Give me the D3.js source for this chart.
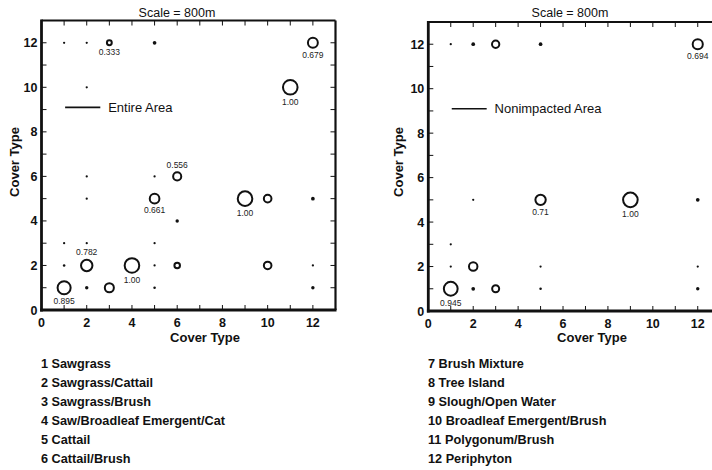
<!DOCTYPE html>
<html lang="en">
<head>
  <meta charset="UTF-8" />
  <title>Cover Type Transitions</title>
  <style>
    body { margin: 0; background: #fff; }
    svg { display: block; font-family: "Liberation Sans", Arial, sans-serif; }
  </style>
  <script src="https://cdn.jsdelivr.net/npm/d3@7"></script>
</head>
<body>
<script>
  // [from cover type, to cover type, relative value]
  const entirePoints = [
    [1, 12, 0.12], [2, 12, 0.12], [3, 12, 0.333], [5, 12, 0.22], [12, 12, 0.679],
    [2, 10, 0.12], [11, 10, 1.00],
    [2, 6, 0.12], [5, 6, 0.12], [6, 6, 0.556],
    [2, 5, 0.12], [5, 5, 0.661], [9, 5, 1.00], [10, 5, 0.52], [12, 5, 0.22],
    [6, 4, 0.2],
    [1, 3, 0.12], [2, 3, 0.12], [5, 3, 0.12],
    [1, 2, 0.14], [2, 2, 0.782], [4, 2, 1.00], [5, 2, 0.12], [6, 2, 0.38], [10, 2, 0.52], [12, 2, 0.12],
    [1, 1, 0.895], [2, 1, 0.2], [3, 1, 0.62], [5, 1, 0.14], [12, 1, 0.2]
  ];
  const nonimpactedPoints = [
    [1, 12, 0.12], [2, 12, 0.22], [3, 12, 0.5], [5, 12, 0.22], [12, 12, 0.694],
    [2, 5, 0.12], [5, 5, 0.71], [9, 5, 1.00], [12, 5, 0.22],
    [1, 3, 0.12],
    [1, 2, 0.12], [2, 2, 0.58], [5, 2, 0.12], [12, 2, 0.12],
    [1, 1, 0.945], [2, 1, 0.22], [3, 1, 0.48], [5, 1, 0.14], [12, 1, 0.2]
  ];
  // [x, y, text, side]
  const entireLabels = [
    [3, 12, "0.333", "below"], [12, 12, "0.679", "below"], [11, 10, "1.00", "below"],
    [6, 6, "0.556", "above"], [5, 5, "0.661", "below"], [9, 5, "1.00", "below"],
    [2, 2, "0.782", "above"], [4, 2, "1.00", "below"], [1, 1, "0.895", "below"]
  ];
  const nonimpactedLabels = [
    [12, 12, "0.694", "below"], [5, 5, "0.71", "below"], [9, 5, "1.00", "below"],
    [1, 1, "0.945", "below"]
  ];
  const coverTypesA = ["1 Sawgrass", "2 Sawgrass/Cattail", "3 Sawgrass/Brush",
    "4 Saw/Broadleaf Emergent/Cat", "5 Cattail", "6 Cattail/Brush"];
  const coverTypesB = ["7 Brush Mixture", "8 Tree Island", "9 Slough/Open Water",
    "10 Broadleaf Emergent/Brush", "11 Polygonum/Brush", "12 Periphyton"];
  const tickValues = d3.range(0, 14);
  const tickLabels = [0, 2, 4, 6, 8, 10, 12];

  const svg = d3.select("body").append("svg")
    .attr("width", 712)
    .attr("height", 470);

  const r = d3.scaleLinear().domain([0, 1]).range([0, 7.3]);
  const isDot = v => r(v) < 2.2;

  function panel(opts) {
    const x = d3.scaleLinear().domain([0, 13]).range([opts.left, opts.right]);
    const y = d3.scaleLinear().domain([0, 13]).range([opts.bottom, opts.top]);
    const g = svg.append("g");

    // frame
    g.append("line").attr("x1", x(0)).attr("x2", x(13)).attr("y1", y(13)).attr("y2", y(13))
      .attr("stroke", "#111").attr("stroke-width", 2);
    g.append("line").attr("x1", x(13)).attr("x2", x(13)).attr("y1", y(0)).attr("y2", y(13))
      .attr("stroke", "#111").attr("stroke-width", 2.2);
    g.append("line").attr("x1", x(0)).attr("x2", x(0)).attr("y1", y(0) + 1.5).attr("y2", y(13) - 1)
      .attr("stroke", "#111").attr("stroke-width", 2.8);
    g.append("line").attr("x1", x(0) - 1.4).attr("x2", x(13) + 1).attr("y1", y(0)).attr("y2", y(0))
      .attr("stroke", "#111").attr("stroke-width", 2.8);

    // inward ticks on all four sides
    const tk = g.append("g").attr("stroke", "#111").attr("stroke-width", 1);
    tk.selectAll(".tb").data(tickValues.slice(1, 13)).join("line")
      .attr("x1", d => x(d)).attr("x2", d => x(d))
      .attr("y1", y(0)).attr("y2", y(0) - 5);
    tk.selectAll(".tt").data(tickValues.slice(1, 13)).join("line")
      .attr("x1", d => x(d)).attr("x2", d => x(d))
      .attr("y1", y(13)).attr("y2", y(13) + 5);
    tk.selectAll(".tl").data(tickValues.slice(1, 13)).join("line")
      .attr("x1", x(0)).attr("x2", x(0) + 5)
      .attr("y1", d => y(d)).attr("y2", d => y(d));
    tk.selectAll(".tr").data(tickValues.slice(1, 13)).join("line")
      .attr("x1", x(13)).attr("x2", x(13) - 5)
      .attr("y1", d => y(d)).attr("y2", d => y(d));

    // tick labels
    g.selectAll(".xl").data(tickLabels).join("text")
      .attr("x", d => x(d)).attr("y", y(0) + 17)
      .attr("text-anchor", "middle")
      .attr("font-size", 12.5).attr("font-weight", "bold").attr("fill", "#111")
      .text(d => d);
    g.selectAll(".yl").data(tickLabels).join("text")
      .attr("x", x(0) - 4).attr("y", d => y(d) + 4.5)
      .attr("text-anchor", "end")
      .attr("font-size", 12.5).attr("font-weight", "bold").attr("fill", "#111")
      .text(d => d);

    // titles
    g.append("text").attr("x", opts.titleX).attr("y", 17)
      .attr("text-anchor", "middle").attr("font-size", 12.5).attr("fill", "#111")
      .text("Scale = 800m");
    g.append("text").attr("x", opts.xTitleX).attr("y", 342)
      .attr("text-anchor", "middle").attr("font-size", 13).attr("font-weight", "bold").attr("fill", "#111")
      .text("Cover Type");
    g.append("text")
      .attr("transform", `translate(${opts.yTitleX},162) rotate(-90)`)
      .attr("text-anchor", "middle").attr("font-size", 13).attr("font-weight", "bold").attr("fill", "#111")
      .text("Cover Type");

    // legend line
    g.append("line").attr("x1", x(1) + 1).attr("x2", x(2.6))
      .attr("y1", y(9.1)).attr("y2", y(9.1))
      .attr("stroke", "#111").attr("stroke-width", 1.6);
    g.append("text").attr("x", x(2.95)).attr("y", y(9.1) + 4.5)
      .attr("font-size", 13).attr("fill", "#111")
      .text(opts.legend);

    // points: small values collapse into solid dots
    g.selectAll(".pt").data(opts.points).join("circle")
      .attr("cx", d => x(d[0])).attr("cy", d => y(d[1]))
      .attr("r", d => isDot(d[2]) ? r(d[2]) + 0.25 : r(d[2]))
      .attr("fill", d => isDot(d[2]) ? "#111" : "none")
      .attr("stroke", d => isDot(d[2]) ? "none" : "#111")
      .attr("stroke-width", 2);

    // value labels
    const valueOf = (px, py) => opts.points.find(p => p[0] === px && p[1] === py)[2];
    g.selectAll(".lb").data(opts.labels).join("text")
      .attr("x", d => x(d[0]))
      .attr("y", d => {
        const rr = r(valueOf(d[0], d[1]));
        return d[3] === "below" ? y(d[1]) + rr + 10 : y(d[1]) - rr - 4.5;
      })
      .attr("text-anchor", "middle")
      .attr("font-size", 8.5).attr("fill", "#222")
      .text(d => d[2]);

    // cover type key
    g.selectAll(".key").data(opts.key).join("text")
      .attr("x", opts.keyX).attr("y", (d, i) => 368 + i * 18.9)
      .attr("font-size", 12.7).attr("font-weight", "bold").attr("fill", "#111")
      .text(d => d);
  }

  panel({
    left: 41.5, right: 335.5, top: 20.5, bottom: 310,
    titleX: 177, xTitleX: 205, yTitleX: 19,
    legend: "Entire Area",
    points: entirePoints, labels: entireLabels,
    key: coverTypesA, keyX: 41
  });
  panel({
    left: 428.3, right: 720.2, top: 22, bottom: 311,
    titleX: 570, xTitleX: 592, yTitleX: 403,
    legend: "Nonimpacted Area",
    points: nonimpactedPoints, labels: nonimpactedLabels,
    key: coverTypesB, keyX: 428
  });
</script>
</body>
</html>
